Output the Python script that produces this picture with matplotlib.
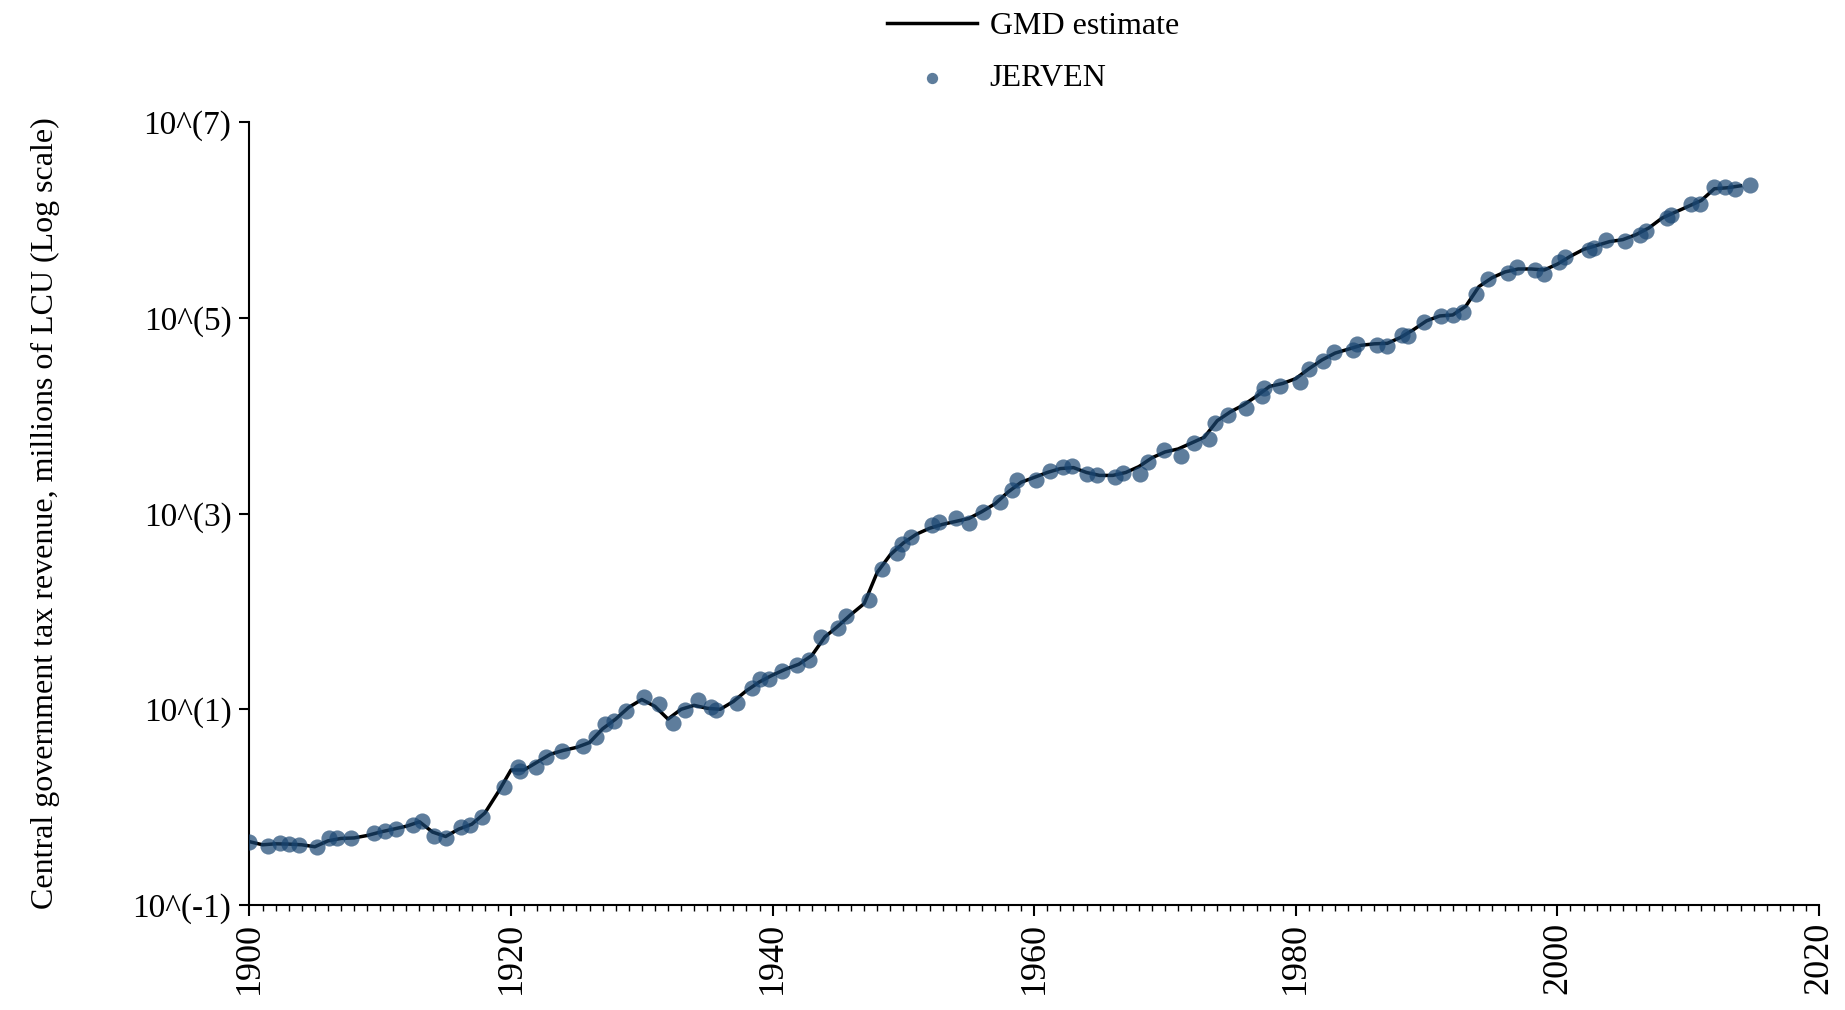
import numpy as np
import matplotlib
matplotlib.use("Agg")
import matplotlib.pyplot as plt
from matplotlib.ticker import FixedLocator, MultipleLocator, NullLocator

plt.rcParams['font.family'] = ['Liberation Serif', 'DejaVu Serif']

# GMD estimate, log10 of millions of LCU, one value per year
gmd_years = list(range(1900, 2015))
gmd_log = [
    -0.353, -0.385, -0.375, -0.378, -0.385, -0.405, -0.345, -0.320, -0.315, -0.290,
    -0.255, -0.225, -0.195, -0.150, -0.255, -0.300, -0.225, -0.175, -0.060, 0.150,
    0.380, 0.380, 0.460, 0.540, 0.580, 0.610, 0.660, 0.800, 0.900, 1.020,
    1.100, 1.030, 0.900, 1.000, 1.040, 1.010, 1.000, 1.080, 1.190, 1.280,
    1.350, 1.410, 1.460, 1.550, 1.740, 1.850, 1.970, 2.080, 2.400, 2.580,
    2.700, 2.790, 2.850, 2.890, 2.920, 2.950, 3.020, 3.100, 3.220, 3.320,
    3.370, 3.420, 3.460, 3.470, 3.420, 3.390, 3.390, 3.420, 3.480, 3.570,
    3.630, 3.660, 3.720, 3.780, 3.950, 4.040, 4.110, 4.200, 4.300, 4.330,
    4.380, 4.480, 4.570, 4.640, 4.680, 4.720, 4.735, 4.740, 4.800, 4.880,
    4.970, 5.020, 5.030, 5.120, 5.320, 5.410, 5.470, 5.500, 5.500, 5.490,
    5.550, 5.630, 5.700, 5.740, 5.780, 5.800, 5.850, 5.920, 6.020, 6.080,
    6.140, 6.200, 6.320, 6.330, 6.350,
]

# JERVEN source points (year, log10 of millions of LCU)
jerven_years = [
    1900.0, 1901.4, 1902.3, 1903.0, 1903.8, 1905.2, 1906.1, 1906.7, 1907.8, 1909.5,
    1910.4, 1911.2, 1912.5, 1913.2, 1914.1, 1915.0, 1916.2, 1916.9, 1917.8, 1919.5,
    1920.5, 1920.7, 1921.9, 1922.7, 1923.9, 1925.5, 1926.5, 1927.2, 1927.9, 1928.8,
    1930.2, 1931.3, 1932.4, 1933.3, 1934.3, 1935.3, 1935.7, 1937.3, 1938.4, 1939.0,
    1939.7, 1940.7, 1941.9, 1942.8, 1943.7, 1945.0, 1945.6, 1947.4, 1948.4, 1949.5,
    1949.9, 1950.6, 1952.2, 1952.7, 1954.0, 1955.0, 1956.1, 1957.4, 1958.3, 1958.7,
    1960.1, 1961.2, 1962.2, 1962.9, 1964.0, 1964.8, 1966.2, 1966.8, 1968.1, 1968.7,
    1969.9, 1971.2, 1972.2, 1973.4, 1973.8, 1974.8, 1976.2, 1977.4, 1977.6, 1978.8,
    1980.3, 1981.0, 1982.1, 1982.9, 1984.4, 1984.7, 1986.2, 1987.0, 1988.1, 1988.6,
    1989.8, 1991.1, 1992.0, 1992.8, 1993.8, 1994.7, 1996.2, 1996.9, 1998.3, 1999.0,
    2000.1, 2000.6, 2002.4, 2002.8, 2003.7, 2005.2, 2006.3, 2006.8, 2008.4, 2008.7,
    2010.2, 2010.9, 2012.0, 2012.8, 2013.6, 2014.7,
]
jerven_log = [
    -0.353, -0.394, -0.364, -0.377, -0.390, -0.410, -0.315, -0.320, -0.315, -0.261,
    -0.247, -0.220, -0.185, -0.139, -0.295, -0.315, -0.200, -0.185, -0.104, 0.203,
    0.407, 0.366, 0.413, 0.516, 0.571, 0.625, 0.714, 0.850, 0.877, 0.979,
    1.123, 1.054, 0.857, 0.993, 1.095, 1.027, 0.993, 1.061, 1.215, 1.306,
    1.313, 1.395, 1.453, 1.504, 1.742, 1.834, 1.957, 2.117, 2.437, 2.600,
    2.689, 2.764, 2.883, 2.911, 2.952, 2.901, 3.013, 3.122, 3.241, 3.343,
    3.343, 3.432, 3.473, 3.486, 3.405, 3.398, 3.371, 3.418, 3.405, 3.527,
    3.650, 3.589, 3.725, 3.759, 3.923, 4.011, 4.079, 4.202, 4.280, 4.307,
    4.345, 4.481, 4.556, 4.655, 4.672, 4.730, 4.726, 4.716, 4.830, 4.815,
    4.960, 5.019, 5.026, 5.063, 5.248, 5.401, 5.462, 5.520, 5.490, 5.449,
    5.568, 5.626, 5.694, 5.711, 5.799, 5.786, 5.847, 5.888, 6.024, 6.055,
    6.161, 6.164, 6.338, 6.338, 6.320, 6.355,
]

ytick_exps = [-1, 1, 3, 5, 7]
ytick_labels = ['10^(-1)', '10^(1)', '10^(3)', '10^(5)', '10^(7)']

fig = plt.figure(figsize=(18.45, 10.1), dpi=100)
ax = fig.add_axes([0.1352, 0.104, 0.8507, 0.775])

ax.plot(gmd_years, 10 ** np.array(gmd_log), color='black', lw=2.5,
        label='GMD estimate', zorder=2)
ax.scatter(jerven_years, 10 ** np.array(jerven_log), s=135, color='#1a4672',
           alpha=0.7, linewidths=0, label='JERVEN', zorder=3)

ax.set_yscale('log')
ax.set_ylim(10 ** -1, 10 ** 7)
ax.set_xlim(1900, 2020)
ax.yaxis.set_major_locator(FixedLocator([10.0 ** e for e in ytick_exps]))
ax.yaxis.set_minor_locator(NullLocator())
ax.set_yticklabels(ytick_labels)
ax.xaxis.set_major_locator(MultipleLocator(20))
ax.xaxis.set_minor_locator(MultipleLocator(1))

for side in ['top', 'right']:
    ax.spines[side].set_visible(False)
for side in ['left', 'bottom']:
    ax.spines[side].set_linewidth(1.5)

ax.tick_params(axis='y', which='major', length=7, width=1.5, labelsize=24, pad=6)
ax.tick_params(axis='x', which='major', length=8, width=1.5, labelsize=26,
               labelrotation=90, pad=4)
ax.tick_params(axis='x', which='minor', length=4, width=1.0)

ax.set_ylabel('Central government tax revenue, millions of LCU (Log scale)',
              fontsize=23, labelpad=52)

fig.legend(loc='upper center', bbox_to_anchor=(0.56, 1.017), frameon=False,
           fontsize=23, handlelength=2.8, labelspacing=0.72, markerscale=0.7,
           handletextpad=0.4)

fig.savefig('out.png', dpi=100)
